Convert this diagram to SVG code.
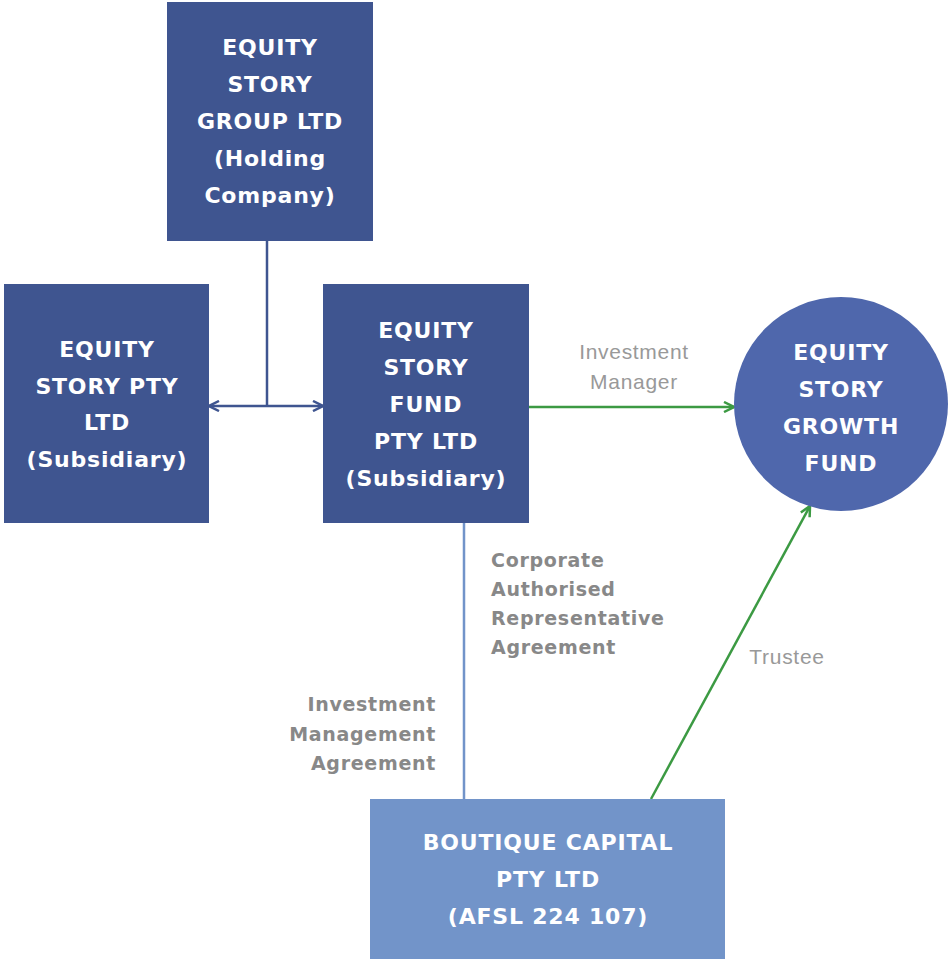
<svg xmlns="http://www.w3.org/2000/svg" width="948" height="959" viewBox="0 0 948 959">
<style>
.n{font-family:"DejaVu Sans","Liberation Sans",sans-serif;font-weight:bold;font-size:22px;letter-spacing:0.8px;fill:#fff;text-anchor:middle}
.l{font-family:"Liberation Sans",sans-serif;font-size:21px;letter-spacing:0.7px;fill:#999;text-anchor:middle}
.b{font-family:"DejaVu Sans","Liberation Sans",sans-serif;font-weight:bold;font-size:19px;letter-spacing:0.7px;fill:#888}
</style>
<defs>
<marker id="ab" viewBox="0 0 12 12" refX="11" refY="6" markerWidth="12" markerHeight="12" markerUnits="userSpaceOnUse" orient="auto-start-reverse"><path d="M1,1 L11,6 L1,11" fill="none" stroke="#3F5590" stroke-width="2.5"/></marker>
<marker id="ag" viewBox="0 0 12 12" refX="11" refY="6" markerWidth="12" markerHeight="12" markerUnits="userSpaceOnUse" orient="auto"><path d="M1,1 L11,6 L1,11" fill="none" stroke="#3C9A43" stroke-width="2.5"/></marker>
</defs>
<rect width="948" height="959" fill="#fff"/>
<g id="connectors" fill="none">
<line x1="267" y1="241" x2="267" y2="406" stroke="#3F5590" stroke-width="2.5"/>
<line x1="209" y1="406" x2="323" y2="406" stroke="#3F5590" stroke-width="2.5" marker-start="url(#ab)" marker-end="url(#ab)"/>
<line x1="529" y1="407" x2="734" y2="407" stroke="#3C9A43" stroke-width="2.5" marker-end="url(#ag)"/>
<line x1="464" y1="523" x2="464" y2="799" stroke="#7294C9" stroke-width="2.5"/>
<line x1="651" y1="799" x2="810" y2="506" stroke="#3C9A43" stroke-width="2.5" marker-end="url(#ag)"/>
</g>
<g id="holding">
<rect x="167" y="2" width="206" height="239" fill="#3F5590"/>
<text class="n"><tspan x="270" y="55">EQUITY</tspan><tspan x="270" y="92">STORY</tspan><tspan x="270" y="129">GROUP LTD</tspan><tspan x="270" y="166">(Holding</tspan><tspan x="270" y="203">Company)</tspan></text>
</g>
<g id="pty">
<rect x="4" y="284" width="205" height="239" fill="#3F5590"/>
<text class="n"><tspan x="107" y="357">EQUITY</tspan><tspan x="107" y="394">STORY PTY</tspan><tspan x="107" y="430">LTD</tspan><tspan x="107" y="467">(Subsidiary)</tspan></text>
</g>
<g id="fund">
<rect x="323" y="284" width="206" height="239" fill="#3F5590"/>
<text class="n"><tspan x="426" y="338">EQUITY</tspan><tspan x="426" y="375">STORY</tspan><tspan x="426" y="412">FUND</tspan><tspan x="426" y="449">PTY LTD</tspan><tspan x="426" y="486">(Subsidiary)</tspan></text>
</g>
<g id="growth">
<circle cx="841" cy="404" r="107" fill="#4F67AC"/>
<text class="n"><tspan x="841" y="360">EQUITY</tspan><tspan x="841" y="397">STORY</tspan><tspan x="841" y="434">GROWTH</tspan><tspan x="841" y="471">FUND</tspan></text>
</g>
<g id="boutique">
<rect x="370" y="799" width="355" height="160" fill="#7294C9"/>
<text class="n"><tspan x="548" y="850">BOUTIQUE CAPITAL</tspan><tspan x="548" y="887">PTY LTD</tspan><tspan x="548" y="924">(AFSL 224 107)</tspan></text>
</g>
<g id="labels">
<text class="l"><tspan x="634" y="359">Investment</tspan><tspan x="634" y="389">Manager</tspan></text>
<text class="b"><tspan x="491" y="567">Corporate</tspan><tspan x="491" y="596">Authorised</tspan><tspan x="491" y="625">Representative</tspan><tspan x="491" y="654">Agreement</tspan></text>
<text class="b" text-anchor="end"><tspan x="436" y="711">Investment</tspan><tspan x="436" y="741">Management</tspan><tspan x="436" y="770">Agreement</tspan></text>
<text class="l" x="787" y="664">Trustee</text>
</g>
</svg>
